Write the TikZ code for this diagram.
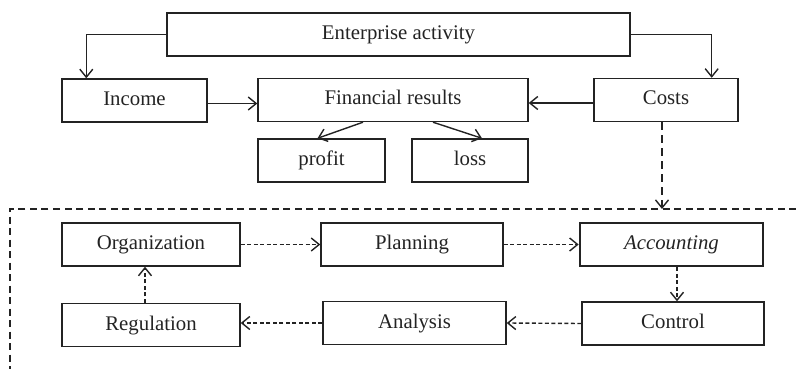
\documentclass[tikz,border=0pt]{standalone}
\usepackage{fontspec}
\setmainfont{Liberation Serif}
\definecolor{LineColor}{RGB}{35,35,35}
\usepackage{tikz}
\usetikzlibrary{positioning, arrows.meta, calc}
\tikzstyle{box} = [draw=LineColor, line width=1.4pt, minimum height=43pt, inner sep=0pt, text height=13pt, text depth=3pt, font=\fontsize{20.8}{24}\selectfont, text=LineColor]
\tikzstyle{arrow} = [line width=1.4pt, LineColor, -{Straight Barb[length=8pt, width=13pt]}]
\tikzstyle{darrow} = [arrow, dash pattern=on 4pt off 2.5pt]

\begin{document}
\begin{tikzpicture}[x=1pt, y=-1pt]
                \useasboundingbox (0,0) rectangle (796,369);

                % Upper part
                \node[box, minimum width=463pt] (ent) at (398.5,34.5) {Enterprise activity};
                \node[box, minimum width=145pt] (inc) at (134.5,100.5) {Income};
                \node[box, minimum width=270pt] (fin) at (393,100) {Financial results};
                \node[box, minimum width=144pt] (cost) at (666,100) {Costs};
                \node[box, minimum width=127pt] (prof) at (321.5,160.5) {profit};
                \node[box, minimum width=116pt] (loss) at (470,160.5) {loss};

                \draw[arrow] (ent.west) -| ([xshift=25pt]inc.north west);
                \draw[arrow] (ent.east) -| ([xshift=-27pt]cost.north east);
                \draw[arrow] ([yshift=-3pt]inc.east) -- ([yshift=-3pt]inc.east -| fin.west);
                \draw[arrow] ([yshift=-3pt]cost.west) -- ([yshift=-3pt]cost.west -| fin.east);
                \draw[arrow] ([xshift=-30pt]fin.south) -- ([xshift=-4pt]prof.north);
                \draw[arrow] ([xshift=40pt]fin.south) -- ([xshift=12pt]loss.north);

                % Frame
                \coordinate (framein) at (662,209);
                \draw[LineColor, line width=1.4pt, dash pattern=on 7pt off 4.5pt] (796,209) -- (10,209) -- (10,369);
                \draw[arrow, dash pattern=on 8pt off 5pt] ([xshift=-4pt]cost.south) -- (framein);

                % Lower part
                \node[box, minimum width=178pt] (org) at (151,244.5) {Organization};
                \node[box, minimum width=182pt] (plan) at (412,244.5) {Planning};
                \node[box, minimum width=183pt, line width=2.6pt] (acc) at (671.5,244.5) {\textit{Accounting}};
                \node[box, minimum width=182pt] (ctrl) at (673,323.5) {Control};
                \node[box, minimum width=183pt] (anal) at (414.5,323) {Analysis};
                \node[box, minimum width=178pt] (reg) at (151,325) {Regulation};

                \draw[darrow] (org.east) -- (plan.west);
                \draw[darrow] (plan.east) -- (acc.west);
                \draw[darrow] (acc.south -| 677,0) -- (ctrl.north -| 677,0);
                \draw[darrow] (ctrl.west) -- (anal.west -| anal.east);
                \draw[darrow] (anal.west) -- (reg.east |- anal.west);
                \draw[darrow] ([xshift=-6pt]reg.north) -- ([xshift=-6pt]org.south);
            \end{tikzpicture}
\end{document}
